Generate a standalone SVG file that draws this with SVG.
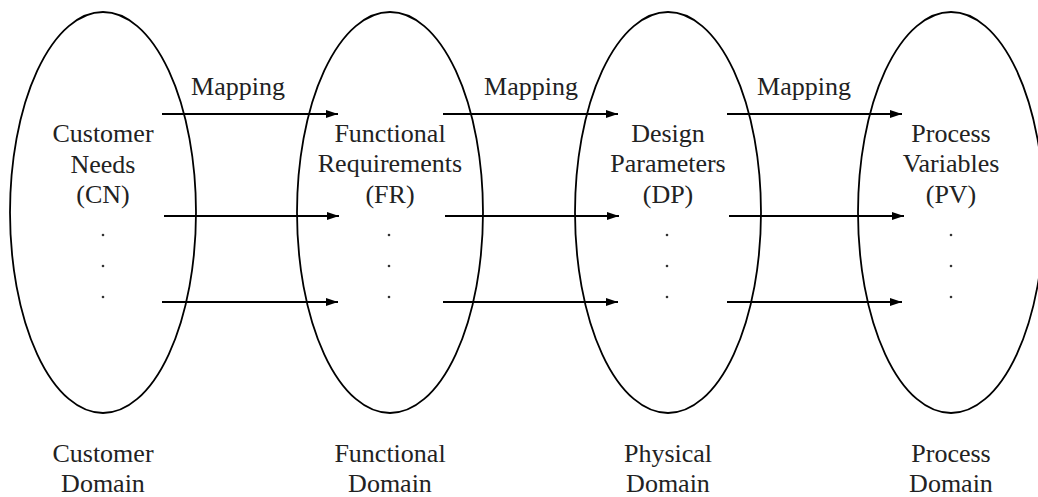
<svg xmlns="http://www.w3.org/2000/svg" width="1038" height="497" viewBox="0 0 1038 497">
  <defs>
    <marker id="arrowhead" markerWidth="12" markerHeight="8" refX="12" refY="4" orient="auto" markerUnits="userSpaceOnUse">
      <path d="M0,0 L12,4 L0,8 Z" fill="#000"/>
    </marker>
    <style>
      .domain { fill: none; stroke: #000; stroke-width: 1.8; }
      .label { font-family: "Liberation Serif", "Times New Roman", serif; font-size: 26px; fill: #222; text-anchor: middle; }
      .dot { fill: #333; }
      .map { stroke: #000; stroke-width: 2; marker-end: url(#arrowhead); }
    </style>
  </defs>
  <rect width="1038" height="497" fill="#fff"/>

  <g id="customer-domain">
    <ellipse class="domain" cx="103" cy="212.5" rx="93" ry="200.5"/>
    <text class="label" x="103" y="142">Customer</text>
    <text class="label" x="103" y="173">Needs</text>
    <text class="label" x="103" y="203">(CN)</text>
    <circle class="dot" cx="103" cy="235" r="1.3"/>
    <circle class="dot" cx="103" cy="266" r="1.3"/>
    <circle class="dot" cx="103" cy="297" r="1.3"/>
    <text class="label" x="103" y="462">Customer</text>
    <text class="label" x="103" y="492">Domain</text>
  </g>

  <g id="functional-domain">
    <ellipse class="domain" cx="390" cy="212.5" rx="93" ry="200.5"/>
    <text class="label" x="390" y="142">Functional</text>
    <text class="label" x="390" y="172">Requirements</text>
    <text class="label" x="390" y="203">(FR)</text>
    <circle class="dot" cx="389" cy="235" r="1.3"/>
    <circle class="dot" cx="389" cy="266" r="1.3"/>
    <circle class="dot" cx="389" cy="297" r="1.3"/>
    <text class="label" x="390" y="462">Functional</text>
    <text class="label" x="390" y="492">Domain</text>
  </g>

  <g id="physical-domain">
    <ellipse class="domain" cx="668" cy="212.5" rx="93" ry="200.5"/>
    <text class="label" x="668" y="142">Design</text>
    <text class="label" x="668" y="172">Parameters</text>
    <text class="label" x="668" y="203">(DP)</text>
    <circle class="dot" cx="667" cy="235" r="1.3"/>
    <circle class="dot" cx="667" cy="266" r="1.3"/>
    <circle class="dot" cx="667" cy="297" r="1.3"/>
    <text class="label" x="668" y="462">Physical</text>
    <text class="label" x="668" y="492">Domain</text>
  </g>

  <g id="process-domain">
    <ellipse class="domain" cx="951" cy="212.5" rx="93" ry="200.5"/>
    <text class="label" x="951" y="142">Process</text>
    <text class="label" x="951" y="172">Variables</text>
    <text class="label" x="951" y="203">(PV)</text>
    <circle class="dot" cx="951" cy="235" r="1.3"/>
    <circle class="dot" cx="951" cy="266" r="1.3"/>
    <circle class="dot" cx="951" cy="297" r="1.3"/>
    <text class="label" x="951" y="462">Process</text>
    <text class="label" x="951" y="492">Domain</text>
  </g>

  <g id="mappings">
    <text class="label" x="238" y="95">Mapping</text>
    <text class="label" x="531" y="95">Mapping</text>
    <text class="label" x="804" y="95">Mapping</text>
    <line class="map" x1="162" y1="114" x2="338" y2="114"/>
    <line class="map" x1="164" y1="216" x2="339" y2="216"/>
    <line class="map" x1="162" y1="302" x2="338" y2="302"/>
    <line class="map" x1="443" y1="114" x2="618" y2="114"/>
    <line class="map" x1="445" y1="216" x2="619" y2="216"/>
    <line class="map" x1="443" y1="302" x2="618" y2="302"/>
    <line class="map" x1="727" y1="114" x2="902" y2="114"/>
    <line class="map" x1="729" y1="216" x2="904" y2="216"/>
    <line class="map" x1="727" y1="302" x2="902" y2="302"/>
  </g>
</svg>
